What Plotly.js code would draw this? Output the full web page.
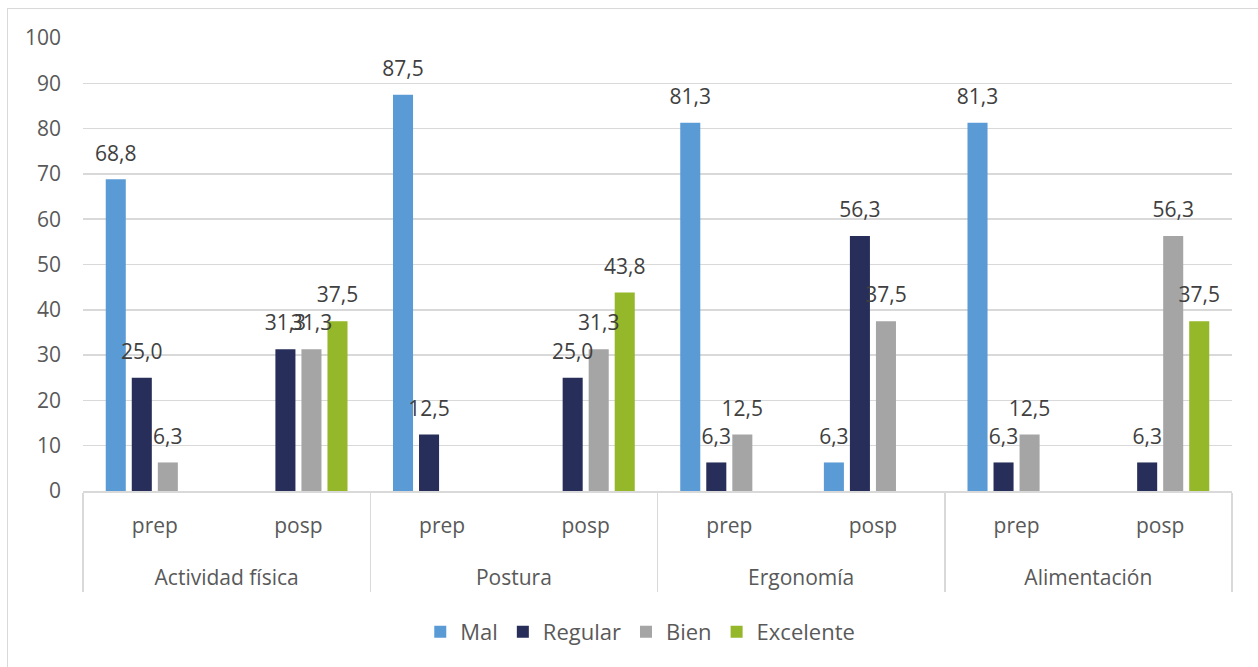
<!DOCTYPE html>
<html>
<head>
<meta charset="utf-8">
<script src="https://cdn.plot.ly/plotly-3.0.1.min.js"></script>
<style>
  html, body { margin: 0; padding: 0; background: #fff; }
  #wrap { position: relative; width: 1258px; height: 667px; overflow: hidden; }
  #chart { width: 1258px; height: 667px; }
  #frame { position: absolute; left: 7px; top: 8px; width: 1300px; height: 700px;
           border: 1.5px solid #d9d9d9; pointer-events: none; box-sizing: border-box; }
</style>
</head>
<body>
<div id="wrap">
  <div id="chart"></div>
  <div id="frame"></div>
</div>
<script>
// ---- data ----
const groups = ['Actividad física', 'Actividad física', 'Postura', 'Postura',
                'Ergonomía', 'Ergonomía', 'Alimentación', 'Alimentación'];
const phases = ['prep', 'posp', 'prep', 'posp', 'prep', 'posp', 'prep', 'posp'];
const seriesNames = ['Mal', 'Regular', 'Bien', 'Excelente'];
const mal       = [68.8, null, 87.5, null, 81.3, 6.3, 81.3, null];
const regular   = [25.0, 31.3, 12.5, 25.0, 6.3, 56.3, 6.3, 6.3];
const bien      = [6.3, 31.3, null, 31.3, 12.5, 37.5, 12.5, 56.3];
const excelente = [null, 37.5, null, 43.8, null, null, null, 37.5];
const yTicks = [0, 10, 20, 30, 40, 50, 60, 70, 80, 90, 100];

// ---- styles ----
const colors = ['#5B9BD5', '#262E59', '#A5A5A5', '#95B72A'];
const FONT = 'Open Sans, Liberation Sans, sans-serif';
const axisColor = '#595959';
const gridColor = '#d9d9d9';
const BARGAP = 0.275;
const values = [mal, regular, bien, excelente];

const fmt = v => (v === null ? '' : v.toFixed(1).replace('.', ','));
// outer level labels drawn lower (blank first line + small shift) for spacing
const groupLabels = groups.map(g => '<br><span style="baseline-shift:-10px">' + g + '</span>');

const traces = [];
values.forEach((vals, s) => {
  traces.push({
    type: 'bar',
    name: seriesNames[s],
    x: [groupLabels, phases],
    y: vals,
    marker: { color: colors[s] },
    hoverinfo: 'y+name'
  });
});

// data labels on an overlay numeric axis aligned with the category slots
const nS = values.length;
const slot = (1 - BARGAP) / nS;
values.forEach((vals, s) => {
  const xs = [], ys = [], ts = [];
  vals.forEach((v, i) => {
    if (v === null) return;
    xs.push(i + (s - (nS - 1) / 2) * slot);
    ys.push(v);
    ts.push(fmt(v));
  });
  traces.push({
    type: 'scatter',
    mode: 'markers+text',
    x: xs, y: ys, text: ts,
    xaxis: 'x2', yaxis: 'y',
    textposition: 'top center',
    textfont: { family: FONT, size: 21, color: '#404040' },
    marker: { size: 20, opacity: 0 },
    cliponaxis: false,
    showlegend: false,
    hoverinfo: 'skip'
  });
});

const layout = {
  width: 1258, height: 667,
  margin: { l: 83, r: 26, t: 38, b: 176 },
  paper_bgcolor: '#ffffff', plot_bgcolor: '#ffffff',
  font: { family: FONT, size: 21, color: axisColor },
  barmode: 'group',
  bargap: BARGAP,
  bargroupgap: 0.23,
  showlegend: true,
  legend: {
    orientation: 'h', x: 0.485, xanchor: 'center', y: -0.311, yanchor: 'middle',
    font: { family: FONT, size: 22, color: axisColor },
    traceorder: 'normal'
  },
  xaxis: {
    type: 'multicategory',
    showline: true, linecolor: gridColor, linewidth: 1.5,
    showgrid: false, zeroline: false,
    ticks: '',
    ticklabelstandoff: 15,
    showdividers: true, dividercolor: gridColor, dividerwidth: 1.5,
    tickfont: { family: FONT, size: 21, color: axisColor }
  },
  xaxis2: {
    overlaying: 'x', range: [-0.5, 7.5], visible: false, fixedrange: true
  },
  yaxis: {
    range: [0, 100],
    tickvals: yTicks,
    showgrid: true, gridcolor: gridColor, gridwidth: 1.5,
    zeroline: false, showline: false, ticks: '',
    tickfont: { family: FONT, size: 21, color: axisColor },
    ticklabelstandoff: 21
  }
};

Plotly.newPlot('chart', traces, layout, { displayModeBar: false, staticPlot: true });
</script>
</body>
</html>
